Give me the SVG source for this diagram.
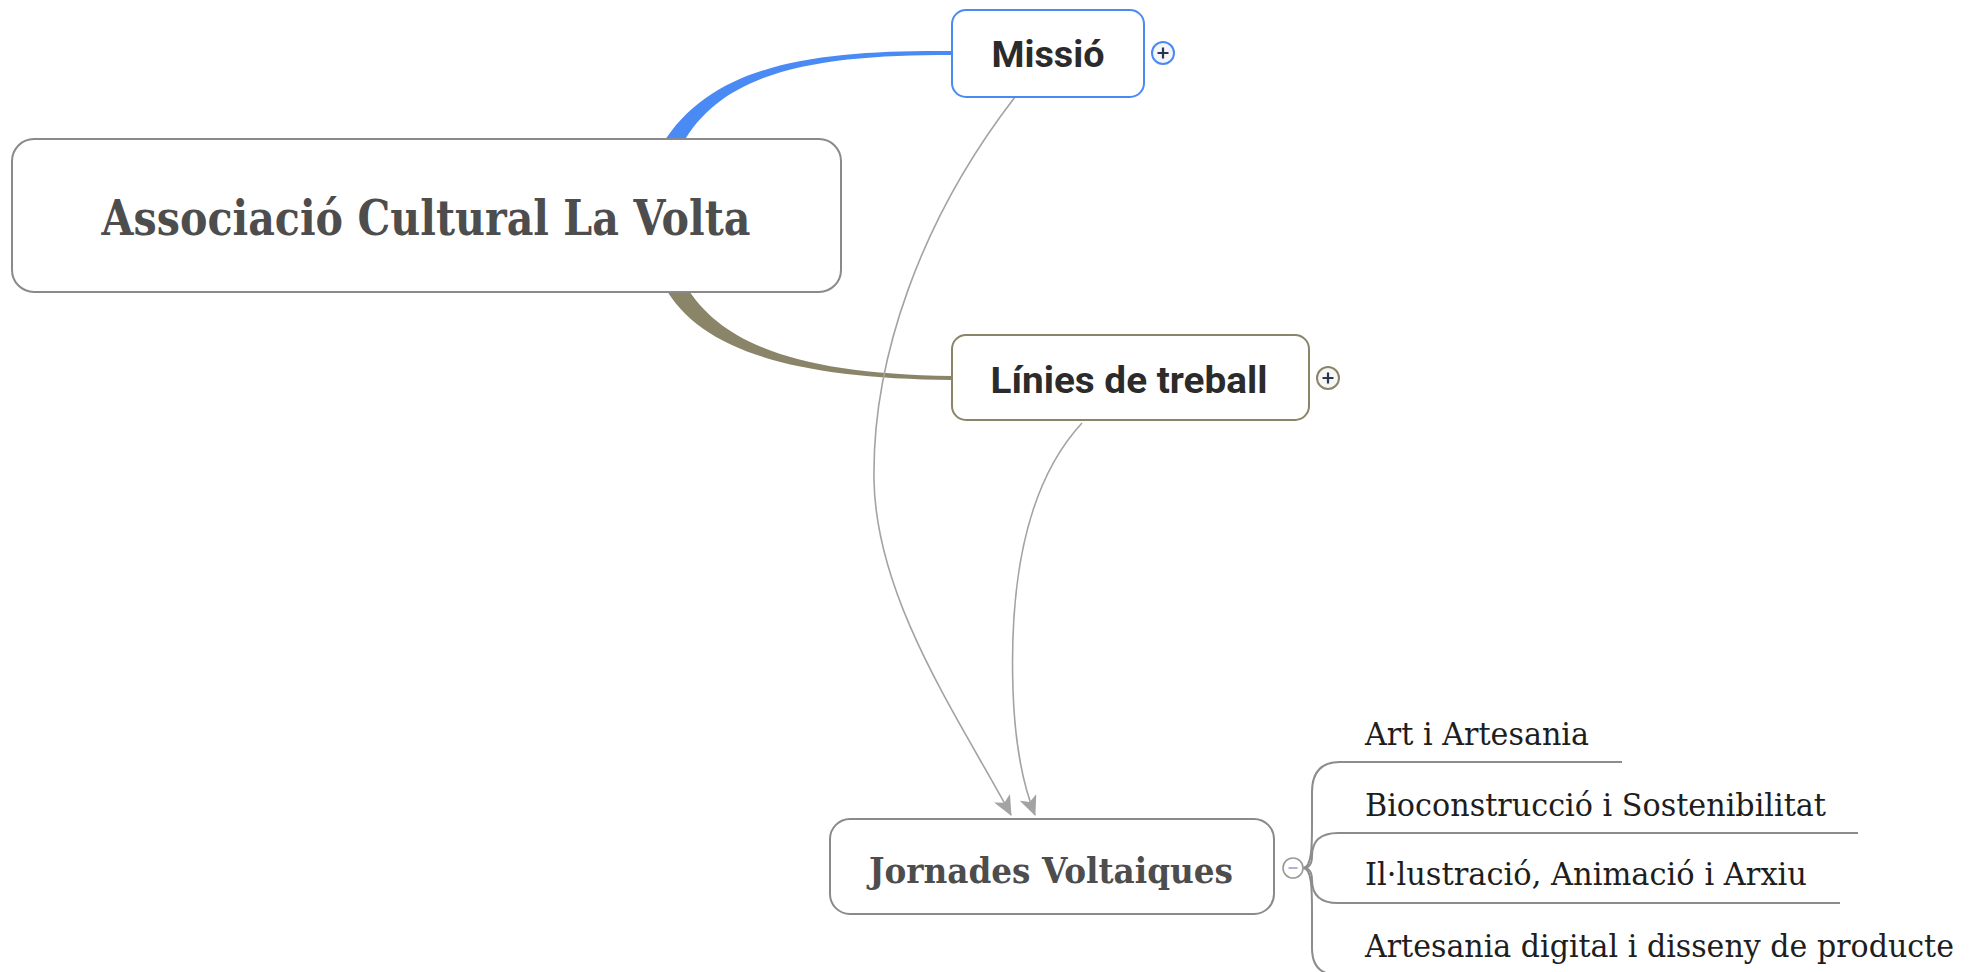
<svg xmlns="http://www.w3.org/2000/svg" width="1982" height="972" viewBox="0 0 1982 972">
<defs>
<style>
.box{fill:#fff;stroke-width:2}
.slab{font-family:"DejaVu Serif","Liberation Serif",serif;font-weight:bold;fill:#4d4d4d;text-anchor:middle}
.sans{font-family:Roboto,"Liberation Sans",sans-serif;font-weight:bold;fill:#2b2b2b;text-anchor:middle;font-size:36px}
.child{font-family:"DejaVu Serif","Liberation Serif",serif;fill:#1e1e1e;font-size:31px}
.rel{fill:none;stroke:#a3a3a3;stroke-width:1.6}
.branch{fill:none;stroke:#8c8c8c;stroke-width:2}
</style>
<marker id="arr" markerUnits="userSpaceOnUse" markerWidth="22" markerHeight="18" refX="19" refY="9" orient="auto">
<path d="M0,0 L20,9 L0,18 L5,9 Z" fill="#a3a3a3"/>
</marker>
</defs>
<rect width="1982" height="972" fill="#fff"/>
<g id="connectors">
<path d="M662,145 C712,62 820,50 952,51 L952,55 C824,55 724,68 682,145 Z" fill="#4a8af4"/>
<path d="M664,286 C700,350 790,378 952,380 L952,376 C800,374 722,345 686,286 Z" fill="#8a8468"/>
<path class="rel" d="M1015,97 C920,220 872,360 874,480 C876,600 960,720 1011,815" marker-end="url(#arr)"/>
<path class="rel" d="M1082,423 C1020,490 1010,600 1013,690 C1015,750 1025,790 1035,815" marker-end="url(#arr)"/>
<path class="branch" d="M1303,868 C1312,868 1312,845 1312,825 L1312,792 Q1312,762 1340,762 L1622,762"/>
<path class="branch" d="M1303,868 C1311,868 1312,862 1312,856 Q1312,833 1338,833 L1858,833"/>
<path class="branch" d="M1303,868 C1311,868 1312,874 1312,880 Q1312,903 1338,903 L1840,903"/>
<path class="branch" d="M1303,868 C1312,868 1312,890 1312,912 L1312,948 Q1312,975 1338,975"/>
</g>
<g id="central">
<rect class="box" x="12" y="139" width="829" height="153" rx="22" stroke="#8a8a8a"/>
<text class="slab" x="426" y="235" font-size="48" textLength="649" lengthAdjust="spacingAndGlyphs">Associació Cultural La Volta</text>
</g>
<g id="missio">
<rect class="box" x="952" y="10" width="192" height="87" rx="14" stroke="#4a8af4"/>
<text class="sans" x="1048" y="67" textLength="113" lengthAdjust="spacingAndGlyphs">Missió</text>
<circle cx="1163" cy="53" r="11" fill="#f4f6fa" stroke="#4a8af4" stroke-width="2"/>
<path d="M1157.5,53 H1168.5 M1163,47.5 V58.5" stroke="#2a3550" stroke-width="2.2"/>
</g>
<g id="linies">
<rect class="box" x="952" y="335" width="357" height="85" rx="14" stroke="#8a8468"/>
<text class="sans" x="1129" y="393" textLength="277" lengthAdjust="spacingAndGlyphs">Línies de treball</text>
<circle cx="1328" cy="378" r="11" fill="#f6f6f3" stroke="#8a8468" stroke-width="2"/>
<path d="M1322.5,378 H1333.5 M1328,372.5 V383.5" stroke="#2a3550" stroke-width="2.2"/>
</g>
<g id="jornades">
<rect class="box" x="830" y="819" width="444" height="95" rx="20" stroke="#8a8a8a"/>
<text class="slab" x="1051" y="883" font-size="36" fill="#5a5a5a" textLength="364" lengthAdjust="spacingAndGlyphs">Jornades Voltaiques</text>
<circle cx="1293" cy="868" r="10" fill="#fff" stroke="#9a9a9a" stroke-width="1.6"/>
<path d="M1288.5,868 H1297.5" stroke="#9aa0c8" stroke-width="1.6"/>
</g>
<g id="art">
<text class="child" x="1365" y="745" textLength="224" lengthAdjust="spacingAndGlyphs">Art i Artesania</text>
</g>
<g id="bio">
<text class="child" x="1365" y="816" textLength="461" lengthAdjust="spacingAndGlyphs">Bioconstrucció i Sostenibilitat</text>
</g>
<g id="illustracio">
<text class="child" x="1365" y="885" textLength="442" lengthAdjust="spacingAndGlyphs">Il·lustració, Animació i Arxiu</text>
</g>
<g id="digital">
<text class="child" x="1365" y="957" textLength="589" lengthAdjust="spacingAndGlyphs">Artesania digital i disseny de producte</text>
</g>
</svg>
